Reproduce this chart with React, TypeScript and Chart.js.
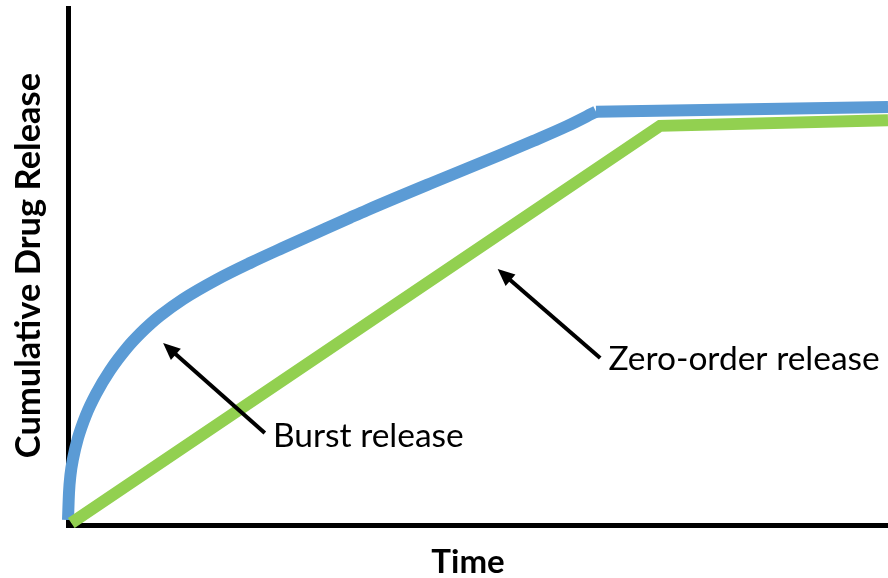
import React, { useEffect, useRef } from "react";
import { Chart, registerables } from "chart.js";

Chart.register(...registerables);

// Burst release curve (time, cumulative release) — arbitrary 0..100 units
const burstTime = [0, 0.12, 0.30, 0.61, 1.22, 2.20, 3.41, 5.12, 7.32, 8.78, 10.00, 11.22, 14.02, 18.17, 22.20, 26.22, 30.37, 34.39, 36.46, 44.51, 52.68, 56.71, 60.85, 64.39];
const burstRelease = [0.97, 6.19, 9.67, 12.77, 16.83, 21.28, 25.34, 29.88, 34.49, 36.98, 38.82, 40.46, 43.67, 47.49, 50.68, 53.62, 56.58, 59.44, 60.89, 66.25, 71.57, 74.26, 77.14, 79.94];
// Burst release plateau
const burstPlateauTime = [64.39, 100];
const burstPlateauRelease = [79.94, 80.85];
// Zero-order release
const zeroTime = [0.4, 72.2, 100];
const zeroRelease = [0.4, 77.2, 78.3];

// Annotations (data coordinates)
const annotationTexts = ["Burst release", "Zero-order release"];
const annotationTextX = [25.0, 65.9];
const annotationTextY = [15.1, 30.0];
const arrowTailX = [24.0, 64.9];
const arrowTailY = [17.8, 32.3];
const arrowHeadX = [11.6, 52.4];
const arrowHeadY = [35.2, 49.5];

const xTitle = "Time";
const yTitle = "Cumulative Drug Release";

const BLUE = "#5B9BD5";
const GREEN = "#92D050";
const FONT = "Lato, 'Open Sans', sans-serif";

const toPoints = (xs: number[], ys: number[]) => xs.map((x, i) => ({ x, y: ys[i] }));

const annotationPlugin = {
  id: "annotationsAndTitles",
  afterDatasetsDraw(chart: any) {
    const { ctx, scales, chartArea } = chart;
    const xs = scales.x;
    const ys = scales.y;
    ctx.save();
    // arrows
    for (let i = 0; i < arrowTailX.length; i++) {
      const x1 = xs.getPixelForValue(arrowTailX[i]);
      const y1 = ys.getPixelForValue(arrowTailY[i]);
      const x2 = xs.getPixelForValue(arrowHeadX[i]);
      const y2 = ys.getPixelForValue(arrowHeadY[i]);
      const ang = Math.atan2(y2 - y1, x2 - x1);
      const headLen = 17;
      const headHalf = 7.5;
      const bx = x2 - headLen * Math.cos(ang);
      const by = y2 - headLen * Math.sin(ang);
      ctx.strokeStyle = "#000";
      ctx.lineWidth = 4;
      ctx.lineCap = "butt";
      ctx.beginPath();
      ctx.moveTo(x1, y1);
      ctx.lineTo(bx + 2 * Math.cos(ang), by + 2 * Math.sin(ang));
      ctx.stroke();
      ctx.fillStyle = "#000";
      ctx.beginPath();
      ctx.moveTo(x2, y2);
      ctx.lineTo(bx + headHalf * Math.sin(ang), by - headHalf * Math.cos(ang));
      ctx.lineTo(bx - headHalf * Math.sin(ang), by + headHalf * Math.cos(ang));
      ctx.closePath();
      ctx.fill();
    }
    // annotation texts
    ctx.fillStyle = "#000";
    ctx.font = `33.5px ${FONT}`;
    ctx.textAlign = "left";
    ctx.textBaseline = "alphabetic";
    for (let i = 0; i < annotationTexts.length; i++) {
      ctx.fillText(
        annotationTexts[i],
        xs.getPixelForValue(annotationTextX[i]),
        ys.getPixelForValue(annotationTextY[i])
      );
    }
    // axis titles
    ctx.font = `bold 33px ${FONT}`;
    ctx.textAlign = "center";
    ctx.fillText(xTitle, (chartArea.left + chartArea.right) / 2 - 10, chartArea.bottom + 48);
    ctx.font = `bold 34.5px ${FONT}`;
    ctx.translate(chartArea.left - 28, (chartArea.top + chartArea.bottom) / 2 - 1);
    ctx.rotate(-Math.PI / 2);
    ctx.fillText(yTitle, 0, 0);
    ctx.restore();
  },
};

export default function App() {
  const canvasRef = useRef<HTMLCanvasElement | null>(null);

  useEffect(() => {
    if (!canvasRef.current) return;
    const chart = new Chart(canvasRef.current, {
      type: "line",
      data: {
        datasets: [
          {
            label: "Zero-order release",
            data: toPoints(zeroTime, zeroRelease),
            borderColor: GREEN,
            borderWidth: 12,
            pointRadius: 0,
            tension: 0,
            clip: false as any,
            order: 0,
            borderJoinStyle: "miter",
          },
          {
            label: "Burst release",
            data: toPoints(burstTime, burstRelease),
            borderColor: BLUE,
            borderWidth: 12,
            pointRadius: 0,
            cubicInterpolationMode: "monotone",
            clip: false as any,
            order: 1,
          },
          {
            label: "Burst plateau",
            data: toPoints(burstPlateauTime, burstPlateauRelease),
            borderColor: BLUE,
            borderWidth: 12,
            pointRadius: 0,
            tension: 0,
            clip: false as any,
            order: 1,
          },
        ],
      },
      options: {
        responsive: false,
        animation: false,
        layout: { padding: { left: 68, top: 8, right: 0, bottom: 53 } },
        plugins: { legend: { display: false }, tooltip: { enabled: false } },
        scales: {
          x: {
            type: "linear",
            min: 0,
            max: 100,
            grid: { display: false, drawTicks: false },
            ticks: { display: false },
            border: { display: true, color: "#000", width: 5 },
            afterFit: (s: any) => {
              s.height = 0;
            },
          },
          y: {
            type: "linear",
            min: 0,
            max: 100,
            grid: { display: false, drawTicks: false },
            ticks: { display: false },
            border: { display: true, color: "#000", width: 5 },
            afterFit: (s: any) => {
              s.width = 0;
            },
          },
        },
      },
      plugins: [annotationPlugin],
    });
    return () => chart.destroy();
  }, []);

  return (
    <div style={{ position: "fixed", left: 0, top: 0, width: 888, height: 578, background: "#fff" }}>
      <canvas ref={canvasRef} width={888} height={578} />
    </div>
  );
}
